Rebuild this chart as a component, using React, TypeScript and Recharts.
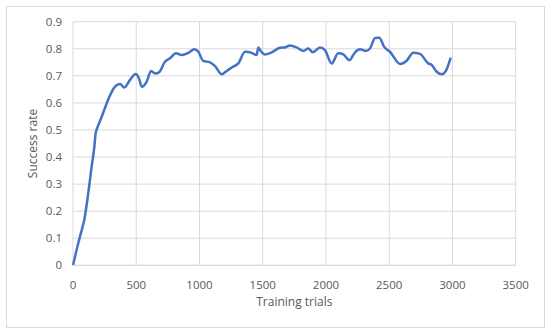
import { LineChart, Line, XAxis, YAxis, CartesianGrid } from 'recharts'

// training trial (x) and success rate (y)
const trials = [
  0, 25, 55, 69, 90, 113, 134, 147, 169, 179, 190, 227, 266, 300, 332, 372, 406, 451, 496, 522,
  543, 582, 617, 648, 680, 727, 767, 814, 859, 912, 959, 991, 1030, 1083, 1123, 1176, 1215, 1255,
  1307, 1360, 1413, 1452, 1465, 1484, 1518, 1571, 1637, 1676, 1716, 1768, 1821, 1860, 1895, 1953,
  1992, 2045, 2097, 2137, 2185, 2230, 2269, 2316, 2348, 2388, 2422, 2459, 2506, 2585, 2638, 2690,
  2743, 2809, 2836, 2875, 2915, 2954, 2986,
]
const successRate = [
  0, 0.05, 0.106, 0.13, 0.17, 0.24, 0.315, 0.364, 0.438, 0.488, 0.505, 0.549, 0.598, 0.635, 0.66,
  0.67, 0.657, 0.685, 0.707, 0.69, 0.66, 0.678, 0.718, 0.709, 0.713, 0.752, 0.765, 0.783, 0.777,
  0.785, 0.798, 0.789, 0.755, 0.75, 0.736, 0.706, 0.718, 0.731, 0.746, 0.789, 0.785, 0.777, 0.805,
  0.792, 0.779, 0.787, 0.804, 0.805, 0.812, 0.805, 0.792, 0.801, 0.787, 0.805, 0.795, 0.746, 0.783,
  0.779, 0.758, 0.787, 0.798, 0.792, 0.801, 0.84, 0.841, 0.808, 0.789, 0.744, 0.756, 0.785, 0.781,
  0.746, 0.74, 0.715, 0.706, 0.724, 0.767,
]
const xTicks = [0, 500, 1000, 1500, 2000, 2500, 3000, 3500]
const yTicks = [0, 0.1, 0.2, 0.3, 0.4, 0.5, 0.6, 0.7, 0.8, 0.9]

const data = trials.map((t, i) => ({ trial: t, rate: successRate[i] }))

const font = '"Open Sans", "Liberation Sans", sans-serif'
const grey = '#595959'

export default function App() {
  return (
    <div style={{ position: 'relative', width: 550, height: 334, background: '#fff', fontFamily: font }}>
      <style>{`body{margin:0}`}</style>
      <div
        style={{
          position: 'absolute', left: 6, top: 6, width: 537, height: 320,
          border: '1px solid #d9d9d9', boxSizing: 'content-box',
        }}
      />
      <div style={{ position: 'absolute', left: 0, top: 0 }}>
        <LineChart
          width={550}
          height={334}
          data={data}
          margin={{ top: 21.7, right: 34.3, bottom: 18.7, left: 0 }}
        >
          <CartesianGrid stroke="#d9d9d9" strokeWidth={1} />
          <XAxis
            dataKey="trial"
            type="number"
            domain={[0, 3500]}
            ticks={xTicks}
            height={50}
            tickLine={false}
            axisLine={{ stroke: '#d9d9d9' }}
            tickMargin={10}
            tick={{ fill: grey, fontSize: 11.5, fontFamily: font }}
            label={{ value: 'Training trials', position: 'insideBottom', offset: 9, fill: grey, fontSize: 12, fontFamily: font }}
          />
          <YAxis
            type="number"
            domain={[0, 0.9]}
            ticks={yTicks}
            width={73}
            tickLine={false}
            axisLine={false}
            tickSize={0}
            tickMargin={11}
            tickFormatter={(v: number) => String(v)}
            tick={{ fill: grey, fontSize: 11.5, fontFamily: font }}
            label={{
              content: (props: any) => {
                const vb = props.viewBox || { x: 0, y: 0, width: 73, height: 244 }
                const cx = vb.x + 32.5
                const cy = vb.y + vb.height / 2
                return (
                  <text
                    x={cx}
                    y={cy}
                    transform={`rotate(-90 ${cx} ${cy})`}
                    textAnchor="middle"
                    dominantBaseline="central"
                    fill={grey}
                    fontSize={12}
                    fontFamily={font}
                  >
                    Success rate
                  </text>
                )
              },
            }}
          />
          <Line
            type="monotone"
            dataKey="rate"
            stroke="#4472C4"
            strokeWidth={2.5}
            dot={false}
            isAnimationActive={false}
          />
        </LineChart>
      </div>
    </div>
  )
}
